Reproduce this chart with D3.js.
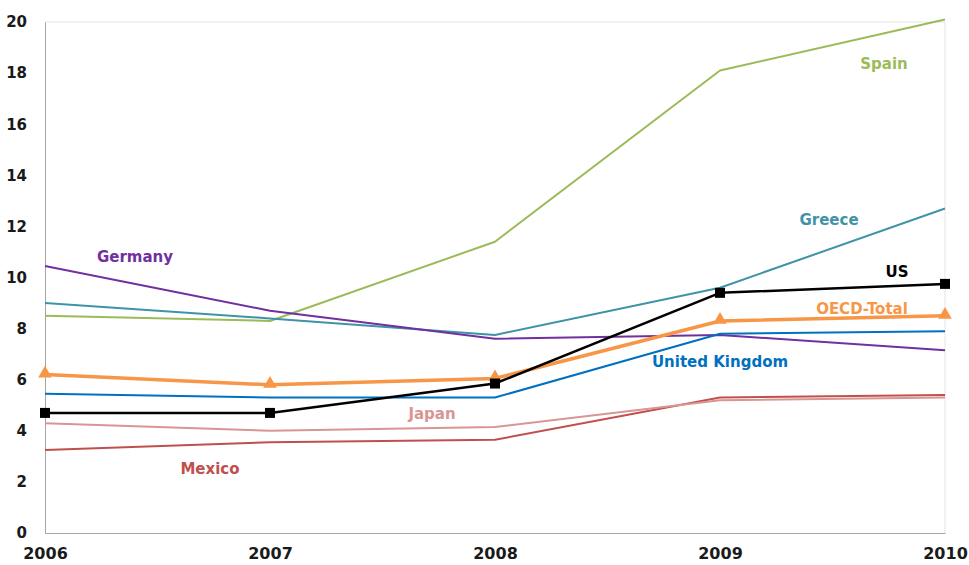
<!DOCTYPE html>
<html><head><meta charset="utf-8">
<script src="https://cdn.jsdelivr.net/npm/d3@7"></script>
<style>body{margin:0;background:#fff}svg{display:block}text{font-family:"DejaVu Sans",Verdana,sans-serif;font-weight:bold}</style>
</head><body><svg id="c" width="969" height="565"></svg>
<script>
const years = [2006, 2007, 2008, 2009, 2010];
const yTicks = [0, 2, 4, 6, 8, 10, 12, 14, 16, 18, 20];
const spain = [8.5, 8.3, 11.4, 18.1, 20.1];
const greece = [9.0, 8.4, 7.75, 9.6, 12.7];
const germany = [10.45, 8.7, 7.6, 7.75, 7.15];
const us = [4.7, 4.7, 5.85, 9.4, 9.75];
const oecd = [6.2, 5.8, 6.05, 8.3, 8.5];
const uk = [5.45, 5.3, 5.3, 7.8, 7.9];
const japan = [4.3, 4.0, 4.15, 5.2, 5.3];
const mexico = [3.25, 3.55, 3.65, 5.3, 5.4];

const series = [
  {name:"Spain", values:spain, color:"#9bbb59", w:2, lx:884, ly:64},
  {name:"Greece", values:greece, color:"#3f93a6", w:2, lx:829, ly:220},
  {name:"Germany", values:germany, color:"#7030a0", w:2, lx:135, ly:257},
  {name:"Mexico", values:mexico, color:"#c0504d", w:2, lx:210, ly:469},
  {name:"Japan", values:japan, color:"#d99594", w:2, lx:432, ly:414},
  {name:"United Kingdom", values:uk, color:"#0070c0", w:2, lx:720, ly:362},
  {name:"OECD-Total", values:oecd, color:"#f79646", w:3.5, lx:862, ly:309, marker:"triangle"},
  {name:"US", values:us, color:"#000000", w:2.5, lx:897, ly:272, marker:"square"}
];

const svg = d3.select("#c");
const mL = 45, mR = 945, mT = 22, mB = 533;
const x = d3.scalePoint().domain(years).range([mL, mR]);
const y = d3.scaleLinear().domain([0, 20]).range([mB, mT]);

// plot border
svg.append("line").attr("x1",mL).attr("x2",mR).attr("y1",mT).attr("y2",mT).attr("stroke","#e4e4e4");
svg.append("line").attr("x1",mR).attr("x2",mR).attr("y1",mT).attr("y2",mB).attr("stroke","#e4e4e4");

// axes
const yAxis = d3.axisLeft(y).tickValues(yTicks).tickSize(0).tickPadding(18);
const gy = svg.append("g").attr("transform",`translate(${mL},0)`).call(yAxis);
gy.select(".domain").attr("stroke","#a6a6a6");
gy.selectAll("text").attr("font-size",15).attr("fill","#1a1a1a").attr("font-family","DejaVu Sans").attr("font-weight","bold");

const xAxis = d3.axisBottom(x).tickSize(0).tickPadding(15);
const gx = svg.append("g").attr("transform",`translate(0,${mB})`).call(xAxis);
gx.select(".domain").attr("stroke","#a6a6a6");
gx.selectAll("text").attr("font-size",16).attr("fill","#1a1a1a").attr("font-family","DejaVu Sans").attr("font-weight","bold");

const line = d3.line().x((d,i)=>x(years[i])).y(d=>y(d));

series.forEach(s=>{
  svg.append("path").datum(s.values).attr("d",line).attr("fill","none")
    .attr("stroke",s.color).attr("stroke-width",s.w).attr("stroke-linejoin","round");
  if (s.marker==="square") {
    svg.selectAll(null).data(s.values).enter().append("rect")
      .attr("x",(d,i)=>x(years[i])-5).attr("y",d=>y(d)-5).attr("width",10).attr("height",10).attr("fill",s.color);
  } else if (s.marker==="triangle") {
    const tri = d3.symbol().type(d3.symbolTriangle).size(80);
    svg.selectAll(null).data(s.values).enter().append("path")
      .attr("d",tri).attr("transform",(d,i)=>`translate(${x(years[i])},${y(d)-1})`).attr("fill",s.color);
  }
});

series.forEach(s=>{
  svg.append("text").attr("x",s.lx).attr("y",s.ly).attr("text-anchor","middle").attr("dominant-baseline","middle")
    .attr("font-size",15).attr("fill",s.color).text(s.name);
});
</script></body></html>
